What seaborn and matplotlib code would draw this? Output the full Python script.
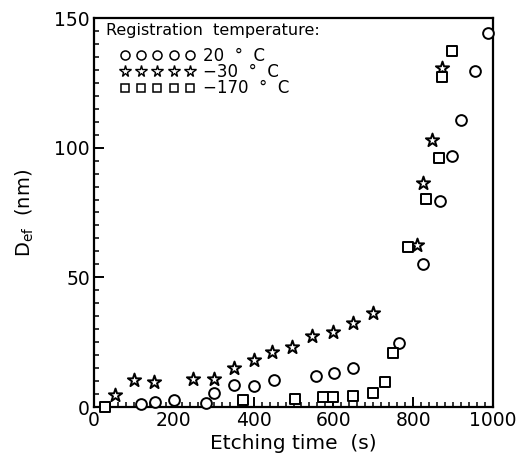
import matplotlib
matplotlib.use("Agg")
import matplotlib.pyplot as plt
from matplotlib.lines import Line2D
from matplotlib.ticker import MultipleLocator
import seaborn as sns
import pandas as pd

# ---- data ----
circle_x = [119, 154, 201, 280, 301, 352, 400, 451, 556, 602, 650, 764, 825, 868, 896, 921, 955, 988]
circle_y = [1.2, 2.0, 2.7, 1.4, 5.5, 8.5, 8.1, 10.4, 12.0, 13.0, 15.0, 24.6, 55.3, 79.4, 96.8, 110.5, 129.6, 144.4]

star_x = [52, 100, 150, 247, 301, 352, 400, 447, 497, 547, 598, 648, 700, 809, 825, 846, 873]
star_y = [4.6, 10.4, 9.8, 10.7, 10.7, 15.0, 18.2, 21.4, 23.3, 27.4, 29.1, 32.3, 36.2, 62.6, 86.5, 102.8, 130.9]

square_x = [27, 373, 504, 573, 600, 650, 700, 730, 749, 787, 833, 865, 873, 896]
square_y = [0.0, 2.7, 3.1, 3.7, 4.0, 4.4, 5.5, 9.8, 20.7, 61.7, 80.3, 96.1, 127.3, 137.3]

series_labels = ["20  °  C", "\u221230  °  C", "\u2212170  °  C"]
x_ticks = [0, 200, 400, 600, 800, 1000]
y_ticks = [0, 50, 100, 150]

sns.set_theme(style="white")
plt.rcParams["font.family"] = ["DejaVu Sans"]
plt.rcParams["text.color"] = "black"
plt.rcParams["axes.labelcolor"] = "black"
plt.rcParams["xtick.color"] = "black"
plt.rcParams["ytick.color"] = "black"

df = pd.concat([
    pd.DataFrame({"t": circle_x, "D": circle_y, "s": series_labels[0]}),
    pd.DataFrame({"t": star_x, "D": star_y, "s": series_labels[1]}),
    pd.DataFrame({"t": square_x, "D": square_y, "s": series_labels[2]}),
])

fig = plt.figure(figsize=(5.24, 4.65), dpi=100)
ax = fig.add_axes([94 / 524, 1 - 407 / 465, (493 - 94) / 524, (407 - 18) / 465])

markers = {series_labels[0]: "o", series_labels[1]: "*", series_labels[2]: "s"}
sizes = {series_labels[0]: 60, series_labels[1]: 100, series_labels[2]: 50}
for lab in series_labels:
    sub = df[df["s"] == lab]
    sns.scatterplot(data=sub, x="t", y="D", marker=markers[lab], s=sizes[lab],
                    facecolor="white", edgecolor="black", linewidth=1.4,
                    ax=ax, legend=False, clip_on=False, zorder=3)

ax.set_xlim(0, 1000)
ax.set_ylim(0, 150)
ax.set_xticks(x_ticks)
ax.set_yticks(y_ticks)
ax.xaxis.set_minor_locator(MultipleLocator(20))
ax.yaxis.set_minor_locator(MultipleLocator(5))
ax.tick_params(which="major", direction="in", length=7, width=1.4, labelsize=13.5,
               top=False, right=False, bottom=True, left=True, pad=3)
ax.tick_params(which="minor", direction="in", length=3.5, width=1.1,
               top=False, right=False, bottom=True, left=True)
for sp in ax.spines.values():
    sp.set_linewidth(1.6)
    sp.set_color("black")

ax.set_xlabel("Etching time  (s)", fontsize=14.5, labelpad=3)
ax.set_ylabel(r"D$_{\rm ef}$  (nm)", fontsize=14, labelpad=13)

ax.text(0.03, 0.986, "Registration  temperature:", transform=ax.transAxes,
        fontsize=11.5, va="top", ha="left")

handles = [
    Line2D([], [], linestyle="none", marker="o", markersize=6.5, markerfacecolor="white",
           markeredgecolor="black", markeredgewidth=1.1),
    Line2D([], [], linestyle="none", marker="*", markersize=8.5, markerfacecolor="white",
           markeredgecolor="black", markeredgewidth=1.0),
    Line2D([], [], linestyle="none", marker="s", markersize=6, markerfacecolor="white",
           markeredgecolor="black", markeredgewidth=1.1),
]
leg = ax.legend(handles, series_labels, numpoints=5, loc="upper left",
                bbox_to_anchor=(0.065, 0.926), frameon=False, fontsize=12,
                handlelength=4.5, handletextpad=0.5, labelspacing=-0.1,
                borderpad=0, borderaxespad=0)

fig.savefig("out.png", dpi=100, facecolor="white")
